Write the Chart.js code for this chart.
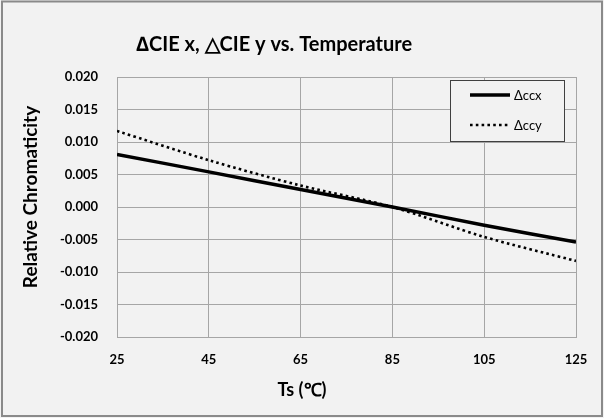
<!DOCTYPE html>
<html>
<head>
<meta charset="utf-8">
<script src="https://cdn.jsdelivr.net/npm/chart.js@4/dist/chart.umd.min.js"></script>
<style>
  html, body { margin: 0; padding: 0; background: #f2f2f2; }
  #wrap { width: 604px; height: 418px; }
</style>
</head>
<body>
<div id="wrap"><canvas id="chart" width="604" height="418"></canvas></div>
<script>
const temps = [25, 45, 65, 85, 105, 125];
const deltaCcx = [0.0081, 0.0054, 0.0027, 0.0000, -0.0028, -0.0054];
const deltaCcy = [0.0117, 0.0072, 0.0033, 0.0000, -0.0046, -0.0083];
const seriesLabels = ['Δccx', 'Δccy'];
const xTitle = 'Ts (℃)';
const yTitle = 'Relative Chromaticity';

const FONT = 'Lato, "Open Sans", sans-serif';

// background + outer frame
const framePlugin = {
  id: 'frame',
  beforeDraw(chart) {
    const ctx = chart.ctx;
    ctx.save();
    ctx.fillStyle = '#f2f2f2';
    ctx.fillRect(0, 0, chart.width, chart.height);
    ctx.strokeStyle = '#8a8a8a';
    ctx.lineWidth = 2;
    ctx.strokeRect(2, 1.5, chart.width - 4, chart.height - 3.5);
    ctx.restore();
  },
  afterLayout(chart) {
    // excel centres the title a bit left of the canvas middle
    chart.titleBlock.left = 0;
    chart.titleBlock.right = 548;
  },
};

// axis titles placed where excel puts them
const axisTitles = {
  id: 'axisTitles',
  afterDraw(chart) {
    const ctx = chart.ctx;
    ctx.save();
    ctx.fillStyle = '#000';
    ctx.textAlign = 'center';
    ctx.textBaseline = 'middle';
    ctx.font = 'bold 18px ' + FONT;
    ctx.fillText(xTitle, 302, 390);
    ctx.translate(31, 197);
    ctx.rotate(-Math.PI / 2);
    ctx.font = 'bold 19px ' + FONT;
    ctx.fillText(yTitle, 0, 0);
    ctx.restore();
  },
};

// boxed legend in the top right corner of the plot
const boxLegend = {
  id: 'boxLegend',
  afterDraw(chart) {
    const ctx = chart.ctx;
    const x = 450, y = 80, w = 114, h = 61;
    ctx.save();
    ctx.fillStyle = '#f2f2f2';
    ctx.fillRect(x, y, w, h);
    ctx.strokeStyle = '#404040';
    ctx.lineWidth = 1;
    ctx.strokeRect(x + 0.5, y + 0.5, w, h);
    chart.data.datasets.forEach((ds, i) => {
      const ly = y + 15 + i * 30;
      ctx.beginPath();
      ctx.strokeStyle = ds.borderColor;
      ctx.lineWidth = ds.borderWidth;
      ctx.setLineDash(ds.borderDash || []);
      ctx.moveTo(470, ly);
      ctx.lineTo(510, ly);
      ctx.stroke();
      ctx.setLineDash([]);
      ctx.fillStyle = '#000';
      ctx.font = '13px ' + FONT;
      ctx.textBaseline = 'middle';
      ctx.fillText(ds.label, 514, ly + 1);
    });
    ctx.restore();
  },
};

new Chart(document.getElementById('chart'), {
  type: 'line',
  data: {
    datasets: [
      {
        label: seriesLabels[0],
        data: temps.map((t, i) => ({ x: t, y: deltaCcx[i] })),
        borderColor: '#000000',
        borderWidth: 3.5,
        pointRadius: 0,
        tension: 0.3,
      },
      {
        label: seriesLabels[1],
        data: temps.map((t, i) => ({ x: t, y: deltaCcy[i] })),
        borderColor: '#000000',
        borderWidth: 2.6,
        borderDash: [2.6, 3.2],
        borderCapStyle: 'butt',
        pointRadius: 0,
        tension: 0.3,
      },
    ],
  },
  options: {
    responsive: false,
    animation: false,
    layout: { padding: { left: 0, right: 28, top: 0, bottom: 0 } },
    plugins: {
      legend: { display: false },
      tooltip: { enabled: false },
      title: {
        display: true,
        text: '∆CIE x, △CIE y vs. Temperature',
        color: '#000',
        font: { family: FONT, size: 20, weight: 'bold', lineHeight: 1.2 },
        padding: { top: 33, bottom: 20 },
      },
    },
    scales: {
      x: {
        type: 'linear',
        min: 25,
        max: 125,
        afterBuildTicks: (scale) => {
          scale.ticks = temps.map((v) => ({ value: v }));
        },
        afterFit: (scale) => { scale.height = 81; },
        grid: { color: '#a6a6a6', drawTicks: false },
        border: { color: '#a6a6a6' },
        ticks: {
          padding: 15,
          color: '#000',
          font: { family: FONT, size: 13, weight: 'bold' },
        },
      },
      y: {
        min: -0.02,
        max: 0.02,
        afterFit: (scale) => { scale.width = 117; },
        grid: { color: '#a6a6a6', drawTicks: false },
        border: { color: '#a6a6a6' },
        ticks: {
          stepSize: 0.005,
          padding: 19,
          color: '#000',
          font: { family: FONT, size: 13, weight: 'bold' },
          callback: (v) => v.toFixed(3),
        },
      },
    },
  },
  plugins: [framePlugin, axisTitles, boxLegend],
});
</script>
</body>
</html>
